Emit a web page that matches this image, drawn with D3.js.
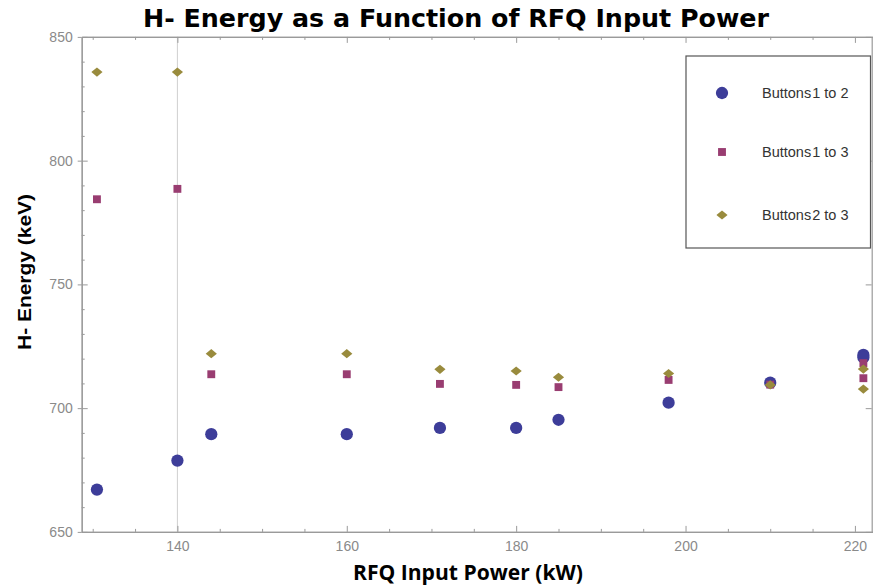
<!DOCTYPE html>
<html>
<head>
<meta charset="utf-8">
<script src="https://cdn.jsdelivr.net/npm/d3@7"></script>
<style>
  body { margin: 0; background: #fff; }
  svg { display: block; }
</style>
</head>
<body>
<svg id="chart" width="873" height="587"></svg>
<script>
// ---- data ----
const powerB12 = [130.5, 140, 144, 160, 171, 180, 185, 198, 210, 221, 221];
const energyB12 = [667.1, 678.8, 689.5, 689.5, 692.0, 692.0, 695.3, 702.2, 710.3, 721.5, 720.5];
const powerB13 = [130.5, 140, 144, 160, 171, 180, 185, 198, 210, 221, 221];
const energyB13 = [784.4, 788.6, 713.7, 713.7, 709.8, 709.4, 708.5, 711.4, 709.5, 718.2, 712.1];
const powerB23 = [130.5, 140, 144, 160, 171, 180, 185, 198, 210, 221, 221];
const energyB23 = [835.8, 835.8, 722.0, 722.0, 715.7, 715.0, 712.5, 714.0, 709.4, 715.8, 707.7];
const seriesNames = ["Buttons 1 to 2", "Buttons 1 to 3", "Buttons 2 to 3"];
const xMajorTicks = [140, 160, 180, 200, 220];
const yMajorTicks = [650, 700, 750, 800, 850];
const xDomain = [128.7, 222.1];
const yDomain = [650, 850];

const colors = ["rgb(61,61,153)", "rgb(153,61,113)", "rgb(153,139,61)"];
const svg = d3.select("#chart");
const L = 81.7, R = 872.7, T = 36.9, B = 531.9;
const x = d3.scaleLinear().domain(xDomain).range([L, R]);
const y = d3.scaleLinear().domain(yDomain).range([B, T]);

const axisColor = "#9a9a9a";
const tickFont = "'Liberation Sans', Arial, sans-serif";

// grid line at 140
svg.append("line").attr("x1", x(140)).attr("x2", x(140)).attr("y1", T).attr("y2", B)
  .attr("stroke", "#cfcfcf").attr("stroke-width", 1);

// minor ticks
const xMinor = d3.range(130, 222, 5).filter(v => !xMajorTicks.includes(v));
const yMinor = d3.range(650, 851, 10).filter(v => !yMajorTicks.includes(v));

function styleAxis(g) {
  g.select(".domain").attr("stroke", axisColor).attr("stroke-width", 1.2);
  g.selectAll(".tick line").attr("stroke", axisColor);
  g.selectAll(".tick text").attr("fill", "#8a8a8a").style("font-family", tickFont).style("font-size", "14px");
}

// bottom axis
svg.append("g").attr("transform", `translate(0,${B})`)
  .call(d3.axisBottom(x).tickValues(xMajorTicks).tickSizeInner(-6).tickSizeOuter(0).tickPadding(9).tickFormat(d3.format("d")))
  .call(styleAxis);
svg.append("g").attr("transform", `translate(0,${B})`)
  .call(d3.axisBottom(x).tickValues(xMinor).tickSizeInner(-3).tickSizeOuter(0).tickFormat(""))
  .call(styleAxis);
// top axis
svg.append("g").attr("transform", `translate(0,${T})`)
  .call(d3.axisTop(x).tickValues(xMajorTicks).tickSizeInner(-6).tickSizeOuter(0).tickFormat(""))
  .call(styleAxis);
svg.append("g").attr("transform", `translate(0,${T})`)
  .call(d3.axisTop(x).tickValues(xMinor).tickSizeInner(-3).tickSizeOuter(0).tickFormat(""))
  .call(styleAxis);
// left axis
const leftAx = svg.append("g").attr("transform", `translate(${L},0)`)
  .call(d3.axisLeft(y).tickValues(yMajorTicks).tickSizeInner(-6).tickSizeOuter(0).tickPadding(9).tickFormat(d3.format("d")))
  .call(styleAxis);
leftAx.selectAll(".tick").append("line").attr("x1", -4).attr("x2", 0).attr("stroke", axisColor);
svg.append("g").attr("transform", `translate(${L},0)`)
  .call(d3.axisLeft(y).tickValues(yMinor).tickSizeInner(-3).tickSizeOuter(0).tickFormat(""))
  .call(styleAxis);
// right axis
svg.append("g").attr("transform", `translate(${R - 1},0)`)
  .call(d3.axisRight(y).tickValues(yMajorTicks).tickSizeInner(-6).tickSizeOuter(0).tickFormat(""))
  .call(styleAxis);

// data points
const sym = [
  d3.symbol().type(d3.symbolCircle).size(118),
  d3.symbol().type(d3.symbolSquare).size(62),
  d3.symbol().type(d3.symbolSquare).size(42)
];
const extra = ["", "", " scale(1.22,1) rotate(45)"];
const series = [
  { px: powerB12, py: energyB12 },
  { px: powerB13, py: energyB13 },
  { px: powerB23, py: energyB23 }
];
series.forEach((s, i) => {
  const pts = s.px.map((p, k) => [p, s.py[k]]);
  svg.append("g").selectAll("path").data(pts).enter().append("path")
    .attr("d", sym[i])
    .attr("transform", d => `translate(${x(d[0])},${y(d[1])})` + extra[i])
    .attr("fill", colors[i]);
});

// legend
const lg = svg.append("g");
lg.append("rect").attr("x", 686).attr("y", 56).attr("width", 184.5).attr("height", 192)
  .attr("fill", "#fff").attr("stroke", "#555").attr("stroke-width", 1.2);
const legY = [93, 152, 215];
seriesNames.forEach((name, i) => {
  lg.append("path").attr("d", sym[i])
    .attr("transform", `translate(722,${legY[i]})` + extra[i])
    .attr("fill", colors[i]);
  const t = lg.append("text").attr("x", 762).attr("y", legY[i] + 5)
    .style("font-family", tickFont).style("font-size", "14.5px").attr("fill", "#333");
  const parts = name.split(" ");
  t.append("tspan").text(parts[0]);
  t.append("tspan").attr("dx", -3).text(" " + parts.slice(1).join(" "));
});

// title
svg.append("text").attr("x", 456).attr("y", 27).attr("text-anchor", "middle")
  .attr("textLength", 626).attr("lengthAdjust", "spacingAndGlyphs")
  .style("font-family", "'DejaVu Sans', sans-serif").style("font-weight", "bold").style("font-size", "24px")
  .attr("fill", "#000").text("H- Energy as a Function of RFQ Input Power");

// axis labels
svg.append("text").attr("x", 468).attr("y", 580).attr("text-anchor", "middle")
  .attr("textLength", 230).attr("lengthAdjust", "spacingAndGlyphs")
  .style("font-family", "'Open Sans', sans-serif").style("font-weight", "bold").style("font-size", "21px")
  .attr("fill", "#000").text("RFQ Input Power (kW)");
svg.append("text").attr("transform", "translate(31,272) rotate(-90)").attr("text-anchor", "middle")
  .attr("textLength", 156).attr("lengthAdjust", "spacingAndGlyphs")
  .style("font-family", "'Liberation Sans', Arial, sans-serif").style("font-weight", "bold").style("font-size", "19px")
  .attr("fill", "#000").text("H- Energy (keV)");
</script>
</body>
</html>
